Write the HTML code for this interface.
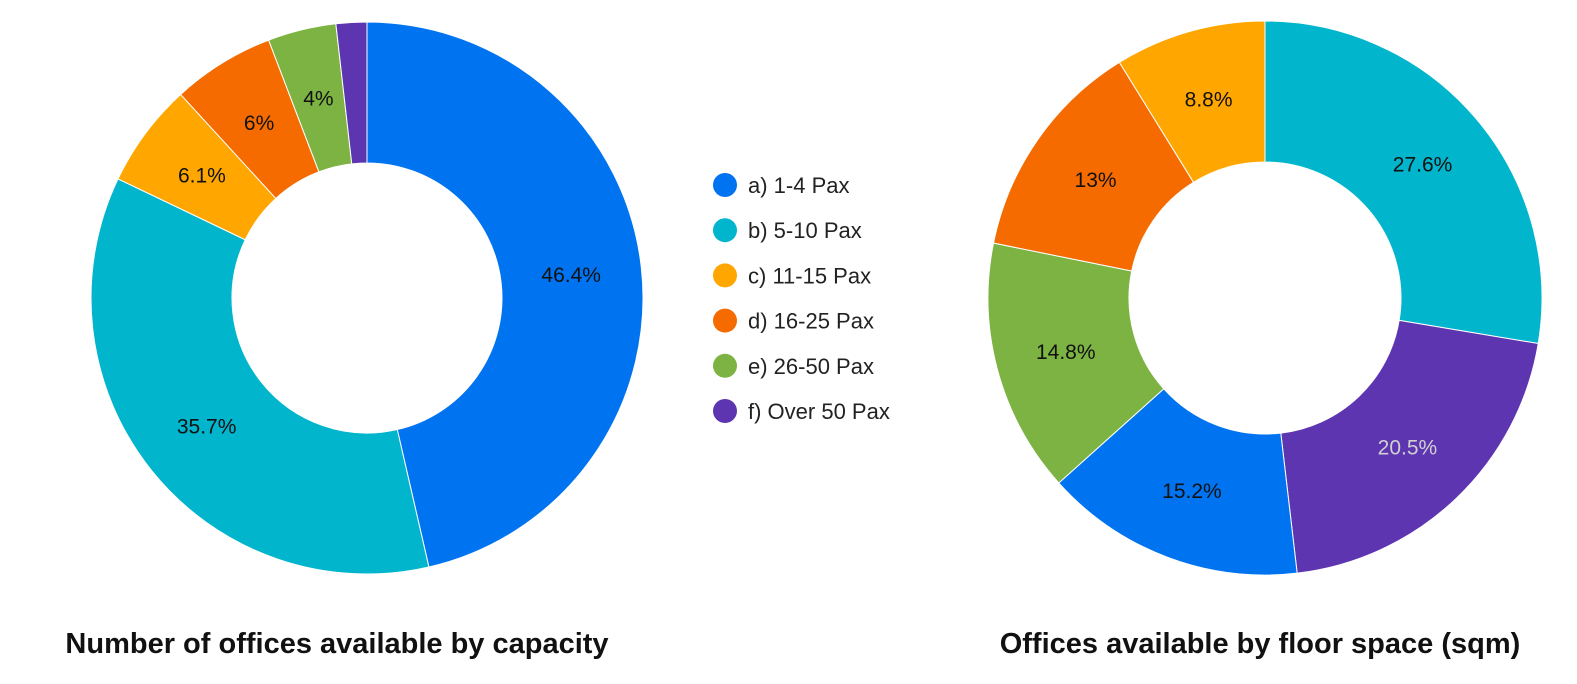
<!DOCTYPE html>
<html><head><meta charset="utf-8">
<style>
body{margin:0;background:#fff;width:1577px;height:684px;overflow:hidden;font-family:"Liberation Sans",sans-serif;}
svg{display:block}
</style></head>
<body>
<svg width="1577" height="684">
<g id="left"></g>
<g id="right"></g>
<g id="legend"></g>
<text x="337" y="653" text-anchor="middle" font-size="29" font-weight="bold" fill="#111">Number of offices available by capacity</text>
<text x="1260" y="653" text-anchor="middle" font-size="29" font-weight="bold" fill="#111">Offices available by floor space (sqm)</text>
</svg>
<script>
const categories=["a) 1-4 Pax","b) 5-10 Pax","c) 11-15 Pax","d) 16-25 Pax","e) 26-50 Pax","f) Over 50 Pax"];
const colors=["#0073f0","#00b5cc","#ffa600","#f56b00","#7cb342","#5e35b1"];
const capacityValues=[46.4,35.7,6.1,6,4,1.8];
const capacityLabels=["46.4%","35.7%","6.1%","6%","4%",""];
const floorOrder=[1,5,0,4,3,2];
const floorValues=[27.6,20.5,15.2,14.8,13,8.8];
const floorLabels=["27.6%","20.5%","15.2%","14.8%","13%","8.8%"];
const NS="http://www.w3.org/2000/svg";
function donut(g,cx,cy,R,r,vals,cats,labels){
  const tot=vals.reduce((a,b)=>a+b,0);let a0=0;
  vals.forEach((v,i)=>{
    const a1=a0+v/tot*2*Math.PI;
    const p=(a,rad)=>[cx+rad*Math.sin(a),cy-rad*Math.cos(a)];
    const [x0,y0]=p(a0,R),[x1,y1]=p(a1,R),[x2,y2]=p(a1,r),[x3,y3]=p(a0,r);
    const lg=(a1-a0)>Math.PI?1:0;
    const path=document.createElementNS(NS,"path");
    path.setAttribute("d",`M${x0},${y0}A${R},${R} 0 ${lg} 1 ${x1},${y1}L${x2},${y2}A${r},${r} 0 ${lg} 0 ${x3},${y3}Z`);
    path.setAttribute("fill",colors[cats[i]]);
    path.setAttribute("stroke","#fff");path.setAttribute("stroke-width","1");
    
    
    g.appendChild(path);
    if(labels[i]){
      const [lx,ly]=p((a0+a1)/2,(R+r)/2);
      const t=document.createElementNS(NS,"text");
      t.setAttribute("x",lx);t.setAttribute("y",ly+7);
      t.setAttribute("text-anchor","middle");t.setAttribute("font-size","21");
      t.setAttribute("fill",cats[i]===5?"#d0d0d0":"#111");
      t.textContent=labels[i];
      
      
      g.appendChild(t);
    }
    a0=a1;
  });
}
donut(document.getElementById("left"),367,298,276,135,capacityValues,[0,1,2,3,4,5],capacityLabels);
donut(document.getElementById("right"),1265,298,277,136,floorValues,floorOrder,floorLabels);
const lg=document.getElementById("legend");
categories.forEach((c,i)=>{
  const y=185+i*45.2;
  const ci=document.createElementNS(NS,"circle");
  ci.setAttribute("cx",725);ci.setAttribute("cy",y);ci.setAttribute("r",12);ci.setAttribute("fill",colors[i]);
  
  
  lg.appendChild(ci);
  const t=document.createElementNS(NS,"text");
  t.setAttribute("x",748);t.setAttribute("y",y+8);t.setAttribute("font-size","22");t.setAttribute("fill","#222");
  t.textContent=c;
  
  
  lg.appendChild(t);
});
</script>
</body></html>
